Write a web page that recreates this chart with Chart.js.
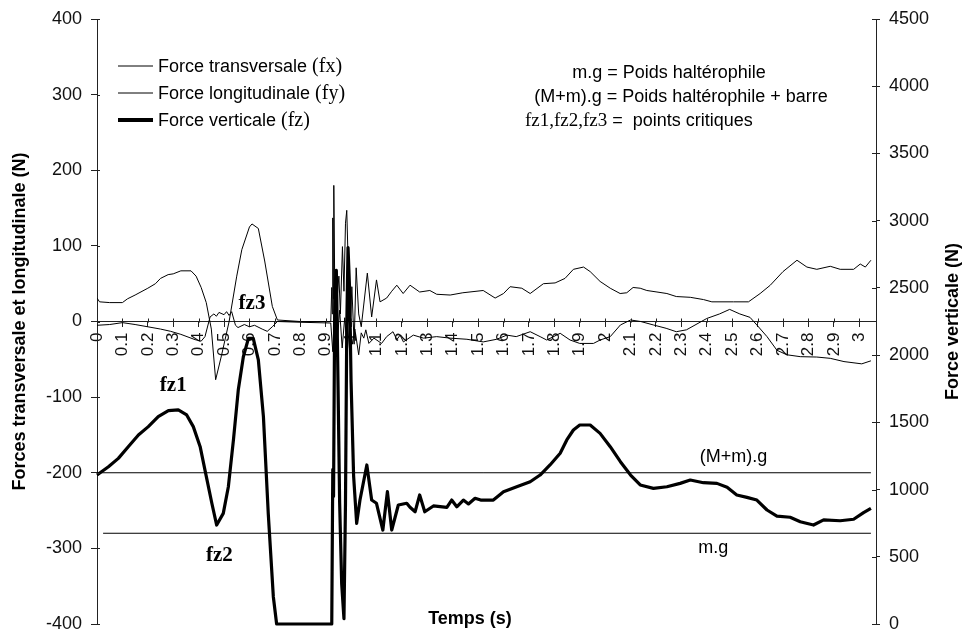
<!DOCTYPE html>
<html>
<head>
<meta charset="utf-8">
<script src="https://cdn.jsdelivr.net/npm/chart.js@4.4.1/dist/chart.umd.min.js"></script>
<style>
  html, body { margin: 0; padding: 0; background: #fff; }
  #wrap { width: 964px; height: 632px; position: relative; }
</style>
</head>
<body>
<div id="wrap"><canvas id="forceChart"></canvas></div>
<script>
// force transversale (fx), left axis, N
const fxTime = [0, 0.05, 0.1, 0.15, 0.2, 0.25, 0.29, 0.33, 0.386, 0.41, 0.425, 0.445, 0.46, 0.47, 0.48, 0.5, 0.51, 0.52, 0.53, 0.545,
  0.555, 0.58, 0.6, 0.62, 0.65, 0.67, 0.69, 0.71, 0.8, 0.92, 0.928, 0.935, 0.945, 0.955, 0.965, 0.975, 0.985, 0.995, 1.005, 1.015,
  1.03, 1.04, 1.05, 1.058, 1.07, 1.09, 1.12, 1.14, 1.165, 1.18, 1.193, 1.206, 1.245, 1.285, 1.337, 1.39, 1.456, 1.52, 1.573, 1.613,
  1.65, 1.705, 1.744, 1.77, 1.823, 1.862, 1.9, 1.954, 1.98, 2.02, 2.06, 2.1, 2.14, 2.19, 2.24, 2.28, 2.32, 2.4, 2.45, 2.49,
  2.53, 2.57, 2.597, 2.637, 2.676, 2.715, 2.768, 2.833, 2.886, 2.94, 3.01, 3.046];
const fxValues = [-5, -4, -1.5, -4, -7, -10, -13, -17, -24, -26, -20, 6, 10, 7, 12, 9, 13, 8, 13, -5,
  -8, -4, -7, -5, -10, -13, -7, 0, -1, -2, -40, 20, -30, 15, -35, 5, -40, 0, -30, -10,
  -44, -15, -22, -11, -29, -22, -29, -20, -13.5, -24, -18, -27, -18, -22, -20, -22, -23.5, -27, -23.5, -18,
  -20, -13.5, -20, -24.5, -15.6, -24.5, -29, -29, -24.5, -20, -4.6, 2, 0, -4.6, -9, -13.5, -11, 4, 10, 16,
  10, 5.5, -4.6, -20, -38, -44, -46.5, -47, -48.7, -53, -56, -52];

// force longitudinale (fy), left axis, N
const fyTime = [0, 0.01, 0.05, 0.1, 0.12, 0.15, 0.2, 0.23, 0.25, 0.28, 0.3, 0.33, 0.37, 0.39, 0.41, 0.43, 0.45, 0.467, 0.49, 0.52,
  0.55, 0.57, 0.6, 0.61, 0.635, 0.66, 0.69, 0.71, 0.8, 0.92, 0.924, 0.926, 0.928, 0.93, 0.932, 0.936, 0.94, 0.945, 0.952, 0.958,
  0.966, 0.972, 0.978, 0.983, 0.99, 0.996, 1.003, 1.012, 1.02, 1.03, 1.04, 1.064, 1.081, 1.1, 1.114, 1.14, 1.16, 1.18, 1.205, 1.232,
  1.27, 1.31, 1.337, 1.39, 1.44, 1.52, 1.567, 1.6, 1.626, 1.672, 1.705, 1.757, 1.803, 1.842, 1.875, 1.915, 1.941, 1.98, 2.02, 2.059,
  2.085, 2.11, 2.138, 2.164, 2.204, 2.243, 2.28, 2.335, 2.387, 2.42, 2.505, 2.564, 2.61, 2.65, 2.7, 2.755, 2.794, 2.833, 2.886, 2.925,
  2.978, 3.004, 3.024, 3.046];
const fyValues = [31, 26, 25, 25, 30, 35, 44, 50, 57, 62, 63, 67, 67, 60, 45, 25, -10, -77, -45, 0,
  60, 95, 125, 129, 123, 80, 20, 2, 0, 0, 45, 10, 137, 30, 180, 35, 20, 30, 60, 10,
  99, 40, 130, 147, 60, -20, 46, -30, 71, 10, -7, 64, 6, 55, 26, 31, 40, 48, 37, 48,
  39, 41, 36, 35, 38, 41, 31, 37, 46, 44, 37, 50, 51, 57, 69, 72, 66, 53, 44, 37,
  38, 45, 44, 41, 39, 37, 33, 32, 29, 26, 26, 26, 37, 48, 66, 81, 72, 69, 73, 69,
  69, 76, 72, 81];

// force verticale (fz), right axis, N
const fzTime = [0, 0.045, 0.084, 0.123, 0.163, 0.202, 0.241, 0.281, 0.32, 0.353, 0.379, 0.406, 0.425, 0.452, 0.471, 0.497, 0.517, 0.537, 0.556, 0.576,
  0.596, 0.615, 0.635, 0.655, 0.674, 0.694, 0.707, 0.924, 0.928, 0.931, 0.936, 0.942, 0.947, 0.955, 0.963, 0.972, 0.978, 0.983, 0.988, 0.994,
  1.0, 1.01, 1.022, 1.035, 1.062, 1.081, 1.1, 1.125, 1.143, 1.16, 1.186, 1.219, 1.232, 1.252, 1.27, 1.29, 1.324, 1.377, 1.396, 1.416,
  1.442, 1.462, 1.488, 1.51, 1.56, 1.6, 1.652, 1.705, 1.744, 1.783, 1.823, 1.849, 1.875, 1.9, 1.941, 1.98, 2.02, 2.06, 2.1, 2.138,
  2.19, 2.243, 2.295, 2.335, 2.387, 2.44, 2.48, 2.518, 2.558, 2.597, 2.637, 2.676, 2.728, 2.768, 2.82, 2.86, 2.925, 2.978, 3.017, 3.046];
const fzValues = [1108, 1170, 1232, 1319, 1406, 1468, 1542, 1587, 1592, 1555, 1468, 1319, 1145, 898, 736, 823, 1021, 1369, 1740, 1988,
  2125, 2125, 1964, 1542, 823, 203, 0, 0, 1150, 950, 2500, 2630, 2000, 900, 300, 40, 900, 2200, 2800, 2500,
  1800, 1100, 749, 922, 1183, 922, 898, 699, 984, 699, 885, 898, 868, 835, 960, 835, 878, 868, 922, 872,
  922, 893, 935, 922, 922, 984, 1021, 1058, 1108, 1183, 1270, 1369, 1443, 1480, 1480, 1418, 1319, 1207, 1108, 1034,
  1009, 1021, 1046, 1071, 1051, 1046, 1017, 960, 942, 922, 848, 803, 794, 761, 736, 774, 768, 779, 828, 860];

// reference weights on the right axis: (M+m).g and m.g
const refLevels = [1125, 675];
const refStart = [0, 0.024];
const refEnd = 3.046;

const sans = '"Liberation Sans", Arial, sans-serif';
const serif = '"Liberation Serif", "Times New Roman", serif';
const axisColor = '#222';

const pts = (ts, vs) => ts.map((t, i) => ({x: t, y: vs[i]}));

// labels put on the plot, in data units (time, force verticale)
const markLabels = [
  {text: 'fz1', t: 0.30, f: 1770},
  {text: 'fz2', t: 0.482, f: 510},
  {text: 'fz3', t: 0.61, f: 2380},
];
const levelLabels = [
  {text: '(M+m).g', t: 2.505, f: 1245},
  {text: 'm.g', t: 2.425, f: 565},
];

const drawMixed = (ctx, x, y, parts) => {
  parts.forEach(p => {
    ctx.font = p.font;
    ctx.fillText(p.text, x, y);
    x += ctx.measureText(p.text).width;
  });
};

const notesPlugin = {
  id: 'notes',
  afterDraw(chart) {
    const {ctx, chartArea, scales} = chart;
    const xs = scales.x, yL = scales.y, yR = scales.y2;
    ctx.save();

    // inner half of the crossing tick marks
    ctx.strokeStyle = axisColor;
    ctx.lineWidth = 1;
    ctx.beginPath();
    yL.ticks.forEach(t => {
      const py = Math.round(yL.getPixelForValue(t.value)) + 0.5;
      ctx.moveTo(chartArea.left, py); ctx.lineTo(chartArea.left + 3, py);
    });
    yR.ticks.forEach(t => {
      const py = Math.round(yR.getPixelForValue(t.value)) + 0.5;
      ctx.moveTo(chartArea.right - 4, py); ctx.lineTo(chartArea.right, py);
    });
    const py0 = Math.round(yL.getPixelForValue(0)) + 0.5;
    xs.ticks.forEach(t => {
      const px = Math.round(xs.getPixelForValue(t.value)) + 0.5;
      ctx.moveTo(px, py0 - 4); ctx.lineTo(px, py0);
    });
    ctx.stroke();

    ctx.fillStyle = '#000';

    // right axis title, read bottom to top like the left one
    ctx.save();
    ctx.translate(953, (chartArea.top + chartArea.bottom) / 2);
    ctx.rotate(-Math.PI / 2);
    ctx.font = 'bold 18px ' + sans;
    ctx.textAlign = 'center';
    ctx.textBaseline = 'middle';
    ctx.fillText('Force verticale (N)', 0, 0);
    ctx.restore();

    // x axis title sits at the bottom of the plot
    ctx.font = 'bold 18px ' + sans;
    ctx.textAlign = 'center';
    ctx.textBaseline = 'middle';
    ctx.fillText('Temps (s)', 470, 619);

    // legend
    ctx.textAlign = 'left';
    const rows = chart.data.datasets.filter(d => d.inLegend);
    rows.forEach((d, i) => {
      const y = 66 + i * 27;
      ctx.strokeStyle = '#000';
      ctx.lineWidth = d.legendWidth;
      ctx.beginPath();
      ctx.moveTo(118, y); ctx.lineTo(153, y);
      ctx.stroke();
      const cut = d.label.indexOf(' (');
      drawMixed(ctx, 158, y + 1, [
        {text: d.label.slice(0, cut + 1), font: '18px ' + sans},
        {text: d.label.slice(cut + 1), font: '20px ' + serif},
      ]);
    });

    // notes block
    ctx.textAlign = 'center';
    ctx.font = '18px ' + sans;
    ctx.fillText('m.g = Poids haltérophile', 669, 73);
    ctx.fillText('(M+m).g = Poids haltérophile + barre', 681, 97);
    ctx.textAlign = 'left';
    drawMixed(ctx, 525, 121, [
      {text: 'fz1,fz2,fz3', font: '19px ' + serif},
      {text: ' =  points critiques', font: '18px ' + sans},
    ]);

    // critical points and level names
    ctx.textAlign = 'center';
    markLabels.forEach(m => {
      ctx.font = 'bold 21px ' + serif;
      ctx.fillText(m.text, xs.getPixelForValue(m.t), yR.getPixelForValue(m.f));
    });
    levelLabels.forEach(m => {
      ctx.font = '18px ' + sans;
      ctx.fillText(m.text, xs.getPixelForValue(m.t), yR.getPixelForValue(m.f));
    });
    ctx.restore();
  }
};

const noPad = s => { s.paddingTop = 0; s.paddingBottom = 0; s.paddingLeft = 0; s.paddingRight = 0; };

new Chart(document.getElementById('forceChart'), {
  type: 'line',
  data: {
    datasets: [
      {label: 'Force transversale (fx)', data: pts(fxTime, fxValues), yAxisID: 'y',
        borderColor: '#000', borderWidth: 1, inLegend: true, legendWidth: 1},
      {label: 'Force longitudinale (fy)', data: pts(fyTime, fyValues), yAxisID: 'y',
        borderColor: '#000', borderWidth: 1, inLegend: true, legendWidth: 1},
      {label: 'Force verticale (fz)', data: pts(fzTime, fzValues), yAxisID: 'y2',
        borderColor: '#000', borderWidth: 3.2, borderJoinStyle: 'round', clip: false, inLegend: true, legendWidth: 4},
      {label: '(M+m).g', data: [{x: refStart[0], y: refLevels[0]}, {x: refEnd, y: refLevels[0]}], yAxisID: 'y2',
        borderColor: '#000', borderWidth: 1},
      {label: 'm.g', data: [{x: refStart[1], y: refLevels[1]}, {x: refEnd, y: refLevels[1]}], yAxisID: 'y2',
        borderColor: '#000', borderWidth: 1},
    ]
  },
  options: {
    responsive: true,
    maintainAspectRatio: false,
    animation: false,
    devicePixelRatio: 1,
    layout: {padding: {top: 19, bottom: 8, left: 0, right: 0}},
    elements: {point: {radius: 0}, line: {tension: 0}},
    plugins: {legend: {display: false}, tooltip: {enabled: false}},
    scales: {
      x: {
        type: 'linear',
        position: {y: 0},
        min: 0,
        max: 3.066,
        grid: {drawOnChartArea: false, tickLength: 5, tickColor: axisColor},
        border: {color: axisColor},
        ticks: {
          stepSize: 0.1, includeBounds: false, autoSkip: false,
          minRotation: 90, maxRotation: 90, padding: 6,
          color: '#111', font: {family: sans, size: 17},
          callback: v => String(Math.round(v * 10) / 10)
        },
        afterFit: s => { s.height = 0; noPad(s); }
      },
      y: {
        position: 'left',
        min: -400, max: 400,
        grid: {drawOnChartArea: false, tickLength: 6, tickColor: axisColor},
        border: {color: axisColor},
        ticks: {stepSize: 100, padding: 9, color: '#111', font: {family: sans, size: 18},
          callback: v => String(v)},
        title: {display: true, text: 'Forces transversale et longitudinale (N)', color: '#000',
          font: {family: sans, size: 18, weight: 'bold'}, padding: {top: 9, bottom: 0}},
        afterFit: s => { s.width = 97; noPad(s); }
      },
      y2: {
        position: 'right',
        min: 0, max: 4500,
        grid: {drawOnChartArea: false, tickLength: 4, tickColor: axisColor},
        border: {color: axisColor},
        ticks: {stepSize: 500, padding: 9, color: '#111', font: {family: sans, size: 18},
          callback: v => String(v)},
        afterFit: s => { s.width = 88; noPad(s); }
      }
    }
  },
  plugins: [notesPlugin]
});
</script>
</body>
</html>
